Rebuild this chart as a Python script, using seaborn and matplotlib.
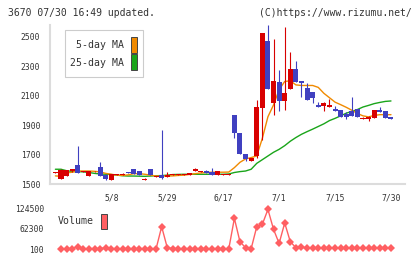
import numpy as np
import matplotlib
matplotlib.use("Agg")
import matplotlib.pyplot as plt
from matplotlib.patches import Rectangle
import seaborn as sns

# ---------------- data ----------------
opens = [1576, 1536, 1556, 1586, 1629, 1582, 1556, 1585, 1615, 1563,
         1529, 1564, 1563, 1580, 1602, 1585, 1530, 1602, 1549, 1561,
         1547, 1561, 1561, 1562, 1563, 1590, 1581, 1588, 1581, 1561,
         1563, 1563, 1968, 1844, 1703, 1658, 1690, 2017, 2472, 2046,
         2192, 2066, 2145, 2281, 2198, 2150, 2124, 2036, 2031, 2024,
         2011, 2002, 1975, 1995, 2009, 1943, 1941, 1950, 2002, 1995,
         1956]
closes = [1582, 1595, 1593, 1602, 1577, 1588, 1586, 1590, 1556, 1532,
          1568, 1569, 1570, 1575, 1570, 1563, 1536, 1561, 1555, 1543,
          1561, 1566, 1566, 1567, 1575, 1600, 1588, 1573, 1561, 1588,
          1568, 1569, 1844, 1706, 1672, 1674, 2021, 2525, 2147, 2198,
          2065, 2118, 2281, 2194, 2187, 2070, 2085, 2024, 2048, 2033,
          1997, 1956, 1956, 1961, 1956, 1950, 1956, 2002, 1990, 1950,
          1943]
highs = [1582, 1600, 1596, 1604, 1758, 1590, 1588, 1591, 1650, 1570,
         1570, 1570, 1572, 1581, 1604, 1590, 1538, 1604, 1556, 1866,
         1581, 1567, 1567, 1568, 1577, 1607, 1590, 1595, 1610, 1590,
         1569, 1570, 1970, 1846, 1705, 1676, 2070, 2527, 2578, 2483,
         2271, 2567, 2396, 2335, 2199, 2183, 2126, 2058, 2058, 2074,
         2029, 2004, 1988, 2090, 2011, 1954, 1958, 2004, 2022, 1997,
         1957]
lows = [1576, 1533, 1553, 1584, 1575, 1580, 1554, 1584, 1554, 1530,
        1527, 1562, 1561, 1573, 1568, 1560, 1529, 1560, 1548, 1532,
        1545, 1560, 1560, 1561, 1561, 1588, 1580, 1572, 1560, 1560,
        1562, 1562, 1810, 1704, 1656, 1656, 1675, 1800, 2145, 1968,
        1995, 2002, 2143, 2192, 2092, 2068, 2051, 2023, 1997, 2023,
        1996, 1955, 1941, 1960, 1955, 1941, 1929, 1949, 1989, 1949,
        1942]
ma5 = [1555, 1552, 1575, 1580, 1588, 1588, 1588, 1586, 1582, 1572,
       1566, 1560, 1558, 1562, 1570, 1570, 1566, 1560, 1554, 1554,
       1554, 1555, 1558, 1560, 1565, 1570, 1575, 1578, 1580, 1580,
       1580, 1581, 1611, 1647, 1670, 1679, 1690, 1810, 1956, 2036,
       2140, 2195, 2200, 2172, 2168, 2168, 2168, 2155, 2115, 2085,
       2055, 2038, 2020, 2000, 1978, 1962, 1955, 1965, 1970, 1970,
       1970]
ma25 = [1600, 1600, 1590, 1585, 1584, 1582, 1578, 1572, 1568, 1566,
        1564, 1560, 1556, 1554, 1554, 1553, 1552, 1554, 1556, 1557,
        1560, 1564, 1565, 1566, 1566, 1566, 1566, 1566, 1566, 1566,
        1566, 1568, 1578, 1584, 1588, 1600, 1640, 1665, 1690, 1715,
        1735, 1760, 1790, 1815, 1837, 1855, 1872, 1890, 1908, 1930,
        1945, 1962, 1980, 1992, 2005, 2022, 2033, 2045, 2053, 2060,
        2063]
volume = [np.nan, 2000, 2000, 2500, 8000, 2000, 2000, 2500, 2000, 5000,
          2500, 2000, 2000, 2500, 2000, 2000, 2500, 2000, 1500, 68700,
          5000, 2000, 2000, 2500, 2000, 2000, 2500, 2000, 2000, 2500,
          2000, 1500, 94000, 23000, 5000, 2000, 68600, 76000, 121000, 60700,
          18000, 80000, 23000, 5000, 7000, 4000, 3500, 4500, 5000, 3500,
          4500, 5000, 3500, 4500, 5000, 4000, 4500, 3500, 4000, 3500,
          3500]
date_labels = ["5/8", "5/29", "6/17", "7/1", "7/15", "7/30"]
date_label_idx = [10, 20, 30, 40, 50, 60]
price_ticks = [1500, 1700, 1900, 2100, 2300, 2500]
vol_ticks = [100, 62300, 124500]
vol_tick_labels = ["100", "62300", "124500"]
title_left = "3670 07/30 16:49 updated."
title_right = "(C)https://www.rizumu.net/"
legend_ma5 = "5-day MA"
legend_ma25 = "25-day MA"
legend_vol = "Volume"

# ---------------- style ----------------
RED = "#d80000"
BLUE = "#4040c0"
ORANGE = "#f08a00"
GREEN = "#1aa51a"
VOLC = "#ff5f62"
AXC = "#dcdcdc"
TXT = "#333333"

sns.set_style("white")
plt.rcParams['font.family'] = ['DejaVu Sans Mono', 'DejaVu Sans']

W, H = 420, 259
fig = plt.figure(figsize=(W / 100, H / 100), dpi=100)


def box(l, t, r, b):
    return [l / W, 1 - b / H, (r - l) / W, (b - t) / H]


ax = fig.add_axes(box(50, 25, 405, 184))
axv = fig.add_axes(box(50, 200, 405, 255))

n = len(opens)
x = np.arange(n)
o = np.array(opens, dtype=float)
c = np.array(closes, dtype=float)
up = c >= o
cols = np.where(up, RED, BLUE)

# moving averages (under candles)
sns.lineplot(x=x, y=ma25, ax=ax, color=GREEN, linewidth=1.0, zorder=2)
sns.lineplot(x=x, y=ma5, ax=ax, color=ORANGE, linewidth=1.0, zorder=2)

# candles
ax.vlines(x, lows, highs, colors=cols, linewidth=0.8, zorder=3)
ax.bar(x, np.abs(c - o), bottom=np.minimum(o, c), width=0.9,
       color=cols, linewidth=0, zorder=4)

xl = (50 - 55.4) / 5.593
xr = (405 - 55.4) / 5.593
ax.set_xlim(xl, xr)
ax.set_ylim(1500, 2578)

for s in ["top", "right"]:
    ax.spines[s].set_visible(False)
for s in ["left", "bottom"]:
    ax.spines[s].set_color(AXC)
    ax.spines[s].set_linewidth(1.5)

ax.set_yticks(price_ticks)
ax.set_yticklabels([str(v) for v in price_ticks])
ax.tick_params(axis="y", length=4.3, width=1.5, color=AXC, pad=2.8,
               labelsize=5.8, labelcolor=TXT)
ax.set_xticks(date_label_idx)
ax.set_xticklabels(date_labels)
ax.tick_params(axis="x", which="major", length=0, pad=6.5,
               labelsize=5.8, labelcolor=TXT)
ax.set_xticks(np.linspace(xl, xr, 12), minor=True)
ax.tick_params(axis="x", which="minor", length=4.3, width=1.5, color=AXC)
ax.set_xlabel("")
ax.set_ylabel("")

# volume
sns.lineplot(x=x, y=volume, ax=axv, color=VOLC, linewidth=1.0,
             marker="D", markersize=4.3, markeredgewidth=0)
axv.set_xlim(xl, xr)
scale = 124400 / 41.0
axv.set_ylim(100 - 5.7 * scale, 124500 + 8.3 * scale)
for s in axv.spines.values():
    s.set_visible(False)
axv.set_xticks([])
axv.set_yticks(vol_ticks)
axv.set_yticklabels(vol_tick_labels)
axv.tick_params(axis="y", length=0, pad=4.3, labelsize=5.8, labelcolor=TXT)
axv.set_xlabel("")
axv.set_ylabel("")
axv.patch.set_alpha(0)

# header texts
fig.text(8 / W, 1 - 12.5 / H, title_left, fontsize=7.0, ha="left",
         va="center", color=TXT)
fig.text(412 / W, 1 - 12.5 / H, title_right, fontsize=7.0, ha="right",
         va="center", color=TXT)


def frect(l, t, r, b, **kw):
    fig.add_artist(Rectangle((l / W, 1 - b / H), (r - l) / W, (b - t) / H,
                             transform=fig.transFigure, **kw))


# price legend
frect(65, 30, 143, 77, facecolor="white", edgecolor="#cccccc", linewidth=0.8)
fig.text(124 / W, 1 - 45.5 / H, legend_ma5, fontsize=7.1, ha="right",
         va="center", color=TXT)
fig.text(124 / W, 1 - 62.5 / H, legend_ma25, fontsize=7.1, ha="right",
         va="center", color=TXT)
frect(131, 37, 137, 52.5, facecolor=ORANGE, edgecolor="#444444", linewidth=0.7)
frect(131, 54, 137, 69.5, facecolor=GREEN, edgecolor="#444444", linewidth=0.7)

# volume legend
fig.text(58 / W, 1 - 221.5 / H, legend_vol, fontsize=7.1, ha="left",
         va="center", color=TXT)
frect(101, 213.5, 107, 228.5, facecolor=VOLC, edgecolor="#444444", linewidth=0.7)

fig.savefig("out.png", dpi=100)
